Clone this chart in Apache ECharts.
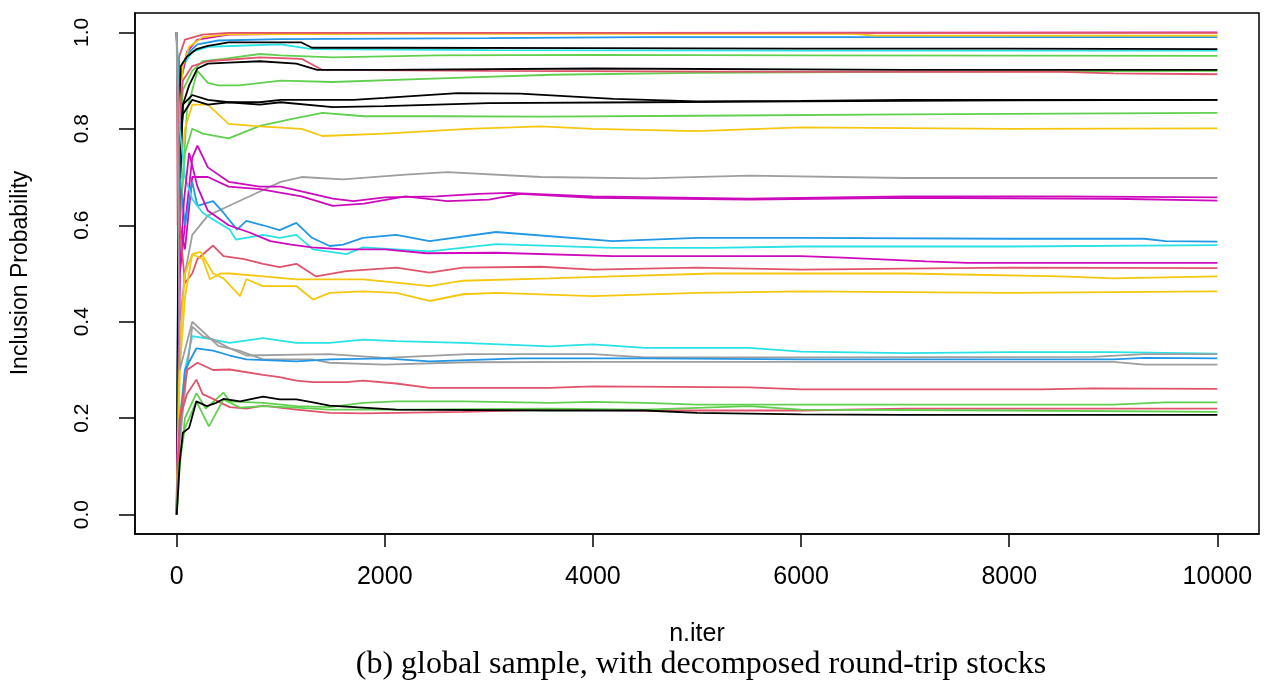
<!DOCTYPE html>
<html><head><meta charset="utf-8">
<script src="https://cdn.jsdelivr.net/npm/echarts@6/dist/echarts.min.js"></script>
<style>html,body{margin:0;padding:0;background:#fff}#c{width:1266px;height:686px}</style>
</head><body><div id="c"></div>
<script>
// ---- data (iteration, inclusion probability) ----
const xTicks = [0, 2000, 4000, 6000, 8000, 10000];
const yTicks = [0, 0.2, 0.4, 0.6, 0.8, 1.0];

const blackA = [[1,1],[15,0.8],[40,0.93],[100,0.95],[190,0.965],[300,0.972],[500,0.979],[1200,0.979],[1300,0.968],[2000,0.968],[4000,0.967],[6000,0.966],[8000,0.966],[10000,0.965]];
const redA = [[1,1],[10,0.6],[25,0.95],[80,0.985],[250,0.995],[500,0.999],[10000,0.999]];
const greenA = [[1,0],[20,0.75],[60,0.88],[150,0.92],[250,0.94],[450,0.945],[800,0.955],[1000,0.952],[1500,0.948],[2500,0.952],[4000,0.953],[6000,0.952],[10000,0.951]];
const blueA = [[1,0],[15,0.6],[40,0.9],[100,0.955],[200,0.975],[400,0.983],[1000,0.986],[3000,0.988],[4500,0.99],[10000,0.99]];
const cyanA = [[1,1],[20,0.85],[60,0.93],[150,0.96],[300,0.97],[1000,0.975],[1300,0.965],[3000,0.963],[6000,0.962],[10000,0.962]];
const magentaA = [[1,1],[15,0.7],[40,0.9],[100,0.96],[200,0.985],[500,0.995],[1500,0.998],[10000,1.0]];
const yellowA = [[1,1],[20,0.8],[60,0.93],[120,0.97],[250,0.99],[500,0.996],[2000,0.997],[6500,0.997],[6700,0.993],[10000,0.993]];
const blackB = [[1,0],[20,0.7],[60,0.85],[120,0.89],[200,0.925],[300,0.935],[500,0.937],[800,0.94],[1150,0.935],[1350,0.922],[2000,0.922],[4000,0.925],[7000,0.922],[10000,0.922]];
const redB = [[1,1],[20,0.8],[60,0.9],[150,0.93],[300,0.94],[800,0.948],[1200,0.945],[1400,0.922],[3000,0.92],[6000,0.918],[8500,0.918],[9000,0.915],[10000,0.913]];
const greenB = [[1,0],[30,0.6],[100,0.84],[200,0.92],[300,0.895],[400,0.89],[600,0.89],[1000,0.9],[1500,0.897],[2600,0.905],[3600,0.912],[5000,0.916],[7000,0.918],[10000,0.92]];
const blackC = [[1,0],[20,0.6],[60,0.85],[150,0.87],[300,0.86],[500,0.855],[800,0.855],[1000,0.86],[1300,0.86],[1700,0.86],[2000,0.864],[2700,0.874],[3300,0.873],[4200,0.862],[5000,0.857],[6000,0.858],[7000,0.86],[10000,0.86]];
const blackD = [[1,1],[20,0.75],[60,0.83],[150,0.86],[300,0.85],[500,0.855],[800,0.85],[1000,0.855],[1500,0.845],[2000,0.847],[3000,0.853],[4500,0.855],[6000,0.857],[8000,0.859],[10000,0.86]];
const greenC = [[1,0],[30,0.6],[80,0.75],[150,0.8],[250,0.79],[500,0.78],[800,0.806],[1100,0.82],[1400,0.833],[1800,0.826],[2500,0.826],[3500,0.825],[5000,0.827],[7000,0.83],[10000,0.833]];
const yellowB = [[1,1],[30,0.7],[80,0.8],[150,0.85],[300,0.85],[500,0.81],[800,0.805],[1200,0.8],[1400,0.785],[2000,0.79],[2800,0.8],[3500,0.805],[4000,0.8],[5000,0.795],[6000,0.803],[8000,0.8],[10000,0.801]];
const grayA = [[1,0],[30,0.4],[80,0.5],[150,0.58],[300,0.62],[500,0.64],[800,0.67],[1000,0.69],[1200,0.7],[1600,0.695],[2200,0.705],[2600,0.71],[3500,0.7],[4500,0.697],[5500,0.703],[7000,0.698],[10000,0.698]];
const magentaB = [[1,0],[30,0.5],[80,0.6],[150,0.74],[200,0.765],[300,0.72],[500,0.69],[800,0.68],[1000,0.68],[1200,0.67],[1500,0.655],[1700,0.65],[2000,0.658],[2500,0.66],[2900,0.665],[3200,0.667],[4000,0.66],[5500,0.655],[7000,0.66],[8500,0.66],[10000,0.658]];
const magentaC = [[1,1],[30,0.6],[80,0.55],[150,0.7],[300,0.7],[500,0.68],[800,0.675],[1200,0.66],[1500,0.64],[1800,0.645],[2200,0.66],[2600,0.65],[3000,0.653],[3300,0.665],[4000,0.657],[5500,0.653],[7000,0.657],[9000,0.655],[10000,0.651]];
const blueB = [[1,1],[30,0.7],[80,0.6],[150,0.69],[200,0.64],[350,0.65],[450,0.626],[580,0.591],[670,0.609],[830,0.6],[990,0.59],[1150,0.605],[1300,0.574],[1470,0.557],[1600,0.56],[1790,0.574],[2110,0.58],[2430,0.567],[3070,0.586],[4190,0.567],[5000,0.574],[6000,0.574],[8000,0.572],[9300,0.572],[9500,0.567],[10000,0.566]];
const cyanB = [[1,1],[30,0.8],[80,0.7],[150,0.654],[250,0.626],[350,0.612],[510,0.591],[570,0.57],[830,0.58],[990,0.574],[1150,0.58],[1310,0.55],[1630,0.54],[1790,0.554],[2110,0.55],[2430,0.546],[3071,0.561],[4190,0.553],[5150,0.553],[6000,0.556],[8000,0.556],[10000,0.559]];
const magentaD = [[1,0],[30,0.5],[70,0.65],[120,0.75],[200,0.68],[300,0.63],[500,0.6],[700,0.585],[900,0.567],[1100,0.56],[1300,0.554],[1600,0.55],[2000,0.55],[2400,0.542],[3070,0.543],[4190,0.536],[6000,0.536],[6400,0.533],[7200,0.525],[7600,0.522],[10000,0.522]];
const redC = [[1,1],[30,0.6],[80,0.48],[150,0.5],[200,0.53],[350,0.558],[450,0.536],[650,0.53],[830,0.52],[990,0.513],[1150,0.52],[1340,0.494],[1630,0.505],[2110,0.512],[2430,0.502],[2750,0.512],[3500,0.514],[4000,0.508],[5000,0.512],[6000,0.508],[7000,0.51],[8000,0.512],[10000,0.511]];
const yellowC = [[1,0],[30,0.35],[80,0.5],[150,0.54],[250,0.53],[320,0.488],[420,0.5],[510,0.5],[830,0.494],[1150,0.488],[1790,0.488],[2110,0.481],[2430,0.474],[2750,0.485],[3583,0.49],[4190,0.494],[5150,0.5],[6000,0.5],[7000,0.5],[8500,0.494],[9000,0.49],[10000,0.494]];
const yellowD = [[1,0],[30,0.3],[80,0.45],[150,0.54],[230,0.545],[350,0.5],[450,0.49],[610,0.453],[670,0.488],[830,0.474],[1150,0.474],[1310,0.446],[1470,0.46],[1790,0.463],[2110,0.46],[2430,0.443],[2750,0.457],[3071,0.46],[4000,0.453],[5000,0.46],[6000,0.463],[8000,0.46],[10000,0.463]];
const cyanC = [[1,0],[30,0.2],[80,0.3],[150,0.37],[300,0.365],[510,0.356],[830,0.366],[1150,0.356],[1470,0.356],[1790,0.363],[2110,0.36],[2750,0.356],[3583,0.349],[4000,0.353],[4500,0.346],[5500,0.346],[6000,0.338],[7000,0.335],[8000,0.337],[9000,0.337],[10000,0.334]];
const grayB = [[1,0],[30,0.15],[100,0.3],[150,0.39],[250,0.37],[350,0.363],[510,0.345],[670,0.33],[1150,0.332],[1470,0.333],[2000,0.325],[2800,0.333],[4000,0.333],[4500,0.326],[6000,0.326],[8800,0.327],[9300,0.333],[10000,0.333]];
const grayC = [[1,1],[30,0.3],[150,0.4],[250,0.38],[400,0.35],[600,0.34],[830,0.322],[1300,0.322],[1470,0.315],[2000,0.311],[2800,0.316],[4000,0.317],[6000,0.317],[9000,0.317],[9300,0.311],[10000,0.311]];
const blueC = [[1,0],[20,0.15],[80,0.3],[190,0.345],[350,0.34],[510,0.33],[670,0.322],[1150,0.318],[1470,0.322],[2000,0.324],[2430,0.318],[3300,0.324],[4500,0.324],[6000,0.322],[9000,0.322],[9300,0.325],[10000,0.324]];
const redD = [[1,0],[30,0.2],[100,0.3],[200,0.315],[350,0.3],[510,0.301],[830,0.29],[990,0.285],[1150,0.278],[1310,0.275],[1630,0.275],[1790,0.278],[2110,0.272],[2430,0.263],[3583,0.263],[4000,0.266],[5500,0.264],[6000,0.26],[8300,0.26],[8800,0.262],[10000,0.261]];
const greenD = [[1,0],[30,0.1],[80,0.2],[190,0.252],[280,0.22],[450,0.253],[510,0.235],[830,0.232],[1150,0.225],[1470,0.223],[1790,0.232],[2110,0.235],[2750,0.235],[3583,0.232],[4000,0.234],[4500,0.232],[5000,0.228],[9000,0.228],[9500,0.233],[10000,0.233]];
const redE = [[1,0],[30,0.2],[100,0.25],[190,0.28],[250,0.25],[350,0.24],[510,0.223],[670,0.22],[830,0.226],[1150,0.218],[1470,0.211],[1790,0.21],[2110,0.211],[2750,0.213],[3583,0.218],[4500,0.216],[6000,0.216],[7000,0.22],[10000,0.22]];
const greenE = [[1,0],[20,0.1],[80,0.18],[190,0.235],[310,0.183],[450,0.239],[610,0.222],[830,0.225],[1150,0.222],[1470,0.218],[2110,0.218],[3583,0.22],[4500,0.218],[5500,0.225],[6000,0.218],[8000,0.216],[10000,0.213]];
const blackE = [[1,0],[30,0.11],[60,0.17],[120,0.18],[190,0.235],[290,0.225],[380,0.232],[450,0.24],[610,0.235],[830,0.245],[990,0.239],[1150,0.239],[1310,0.233],[1470,0.226],[1710,0.223],[2110,0.218],[3583,0.216],[4500,0.216],[5000,0.211],[6000,0.208],[7000,0.207],[10000,0.207]];

const seriesList = [greenA, blueA, cyanA, magentaA, yellowA, redA, blackA,
  greenB, redB, blackB, greenC, yellowB, blackC, blackD, grayA, magentaB, magentaC,
  blueB, cyanB, magentaD, redC, yellowC, yellowD, cyanC, grayB, grayC, blueC,
  redD, greenD, redE, greenE, blackE];
const seriesColorKeys = ['green','blue','cyan','magenta','yellow','red','black',
  'green','red','black','green','yellow','black','black','gray','magenta','magenta',
  'blue','cyan','magenta','red','yellow','yellow','cyan','gray','gray','blue',
  'red','green','red','green','black'];

// ---- styles ----
const palette = {black:'#000000', red:'#DF536B', green:'#61D04F', blue:'#2297E6',
  cyan:'#28E2E5', magenta:'#CD0BBC', yellow:'#F5C710', gray:'#9E9E9E'};
const sans = 'Liberation Sans, Arial, sans-serif';

const chart = echarts.init(document.getElementById('c'), null, {renderer:'canvas'});
chart.setOption({
  animation: false,
  backgroundColor: '#fff',
  grid: {left:135, right:7, top:13, bottom:152, show:true, borderColor:'#000', borderWidth:1.5, backgroundColor:'transparent'},
  xAxis: {
    type:'value', min:-400, max:10400,
    splitLine:{show:false},
    axisLine:{show:true, onZero:false, lineStyle:{color:'#000', width:1.5}},
    axisTick:{show:true, customValues:xTicks, length:13, lineStyle:{color:'#000', width:1.5}},
    axisLabel:{customValues:xTicks, fontSize:25, color:'#000', fontFamily:sans, margin:31,
      formatter: v => String(v)}
  },
  yAxis: {
    type:'value', min:-0.04, max:1.04,
    splitLine:{show:false},
    axisLine:{show:true, onZero:false, lineStyle:{color:'#000', width:1.5}},
    axisTick:{show:true, customValues:yTicks, length:16, lineStyle:{color:'#000', width:1.5}},
    axisLabel:{customValues:yTicks, rotate:90, fontSize:21, color:'#000', fontFamily:sans, margin:42,
      formatter: v => v.toFixed(1)}
  },
  graphic: [
    {type:'text', x:697, y:634, style:{text:'n.iter', font:'25px ' + sans, fill:'#000', textAlign:'center', textVerticalAlign:'middle'}},
    {type:'text', x:21, y:273, rotation:Math.PI/2, style:{text:'Inclusion Probability', font:'23px ' + sans, fill:'#000', textAlign:'center', textVerticalAlign:'middle'}},
    {type:'text', x:701, y:665, style:{text:'(b) global sample, with decomposed round-trip stocks', font:'32px Liberation Serif, Times New Roman, serif', fill:'#000', textAlign:'center', textVerticalAlign:'middle'}}
  ],
  series: seriesList.map((d, i) => ({
    type:'line', data:d, showSymbol:false, symbol:'none', silent:true,
    lineStyle:{color:palette[seriesColorKeys[i]], width:1.8},
    itemStyle:{color:palette[seriesColorKeys[i]]}
  }))
});
</script></body></html>
